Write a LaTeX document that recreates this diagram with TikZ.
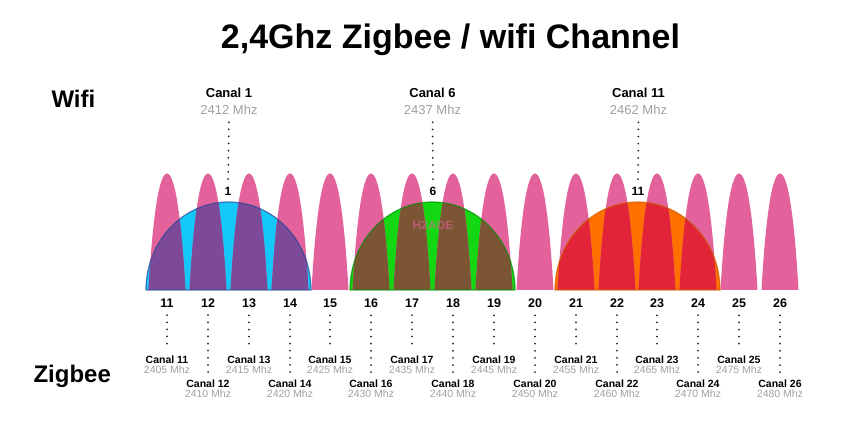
\documentclass[tikz,border=0pt]{standalone}
\usepackage{fontspec}
\setmainfont{Liberation Sans}
\usepackage{tikz}

\definecolor{lobepink}{RGB}{227,98,155}
\definecolor{wcyan}{RGB}{20,200,250}
\definecolor{wpurple}{RGB}{124,74,152}
\definecolor{wblueline}{RGB}{40,70,150}
\definecolor{wgreen}{RGB}{20,215,20}
\definecolor{wbrown}{RGB}{124,86,52}
\definecolor{wgreenline}{RGB}{0,140,0}
\definecolor{worange}{RGB}{255,112,0}
\definecolor{wred}{RGB}{226,36,56}
\definecolor{worangeline}{RGB}{205,90,0}
\definecolor{mhzgray}{RGB}{160,160,160}

% one zigbee lobe / one wifi dome
\newcommand{\lobe}[1]{(#1-18.5,-290) .. controls (#1-15,-228) and (#1-9,-173.5) .. (#1,-173.5)
  .. controls (#1+9,-173.5) and (#1+15,-228) .. (#1+18.5,-290) -- cycle}
\newcommand{\lobes}{\lobe{167}\lobe{208}\lobe{249}\lobe{290}\lobe{330}\lobe{371}\lobe{412}\lobe{453}
  \lobe{494}\lobe{535}\lobe{576}\lobe{617}\lobe{657}\lobe{698}\lobe{739}\lobe{780}}
\newcommand{\dome}[1]{(#1-82.5,-290) arc[start angle=180,end angle=0,x radius=82.5pt,y radius=88pt] -- cycle}

\begin{document}
\begin{tikzpicture}[x=1pt,y=1pt,
  title/.style={font=\fontsize{34}{38}\selectfont\bfseries},
  side/.style={font=\fontsize{24}{28}\selectfont\bfseries,anchor=base west},
  wname/.style={font=\fontsize{13}{15}\selectfont\bfseries,anchor=base,inner sep=1pt},
  wfreq/.style={font=\fontsize{13}{15}\selectfont,text=mhzgray,anchor=base,inner sep=1pt},
  wnum/.style={font=\fontsize{12}{14}\selectfont\bfseries,anchor=base,inner sep=1pt},
  chnum/.style={font=\fontsize{12.5}{14}\selectfont\bfseries,anchor=base,inner sep=1pt},
  zname/.style={font=\fontsize{10.5}{12}\selectfont\bfseries,anchor=base,inner sep=1pt},
  zfreq/.style={font=\fontsize{10.5}{12}\selectfont,text=mhzgray,anchor=base,inner sep=1pt},
  wmark/.style={font=\fontsize{12}{14}\selectfont\bfseries,text=lobepink,opacity=0.6},
  dots/.style={draw=black!85,line width=2pt,line cap=round,dash pattern=on 0pt off 7.1pt,shorten <=6pt,shorten >=6pt}]

\useasboundingbox (0,0) rectangle (844,-435);

% wifi domes and zigbee lobes
\fill[wcyan] \dome{228.5};
\fill[wgreen] \dome{432.5};
\fill[worange] \dome{637.5};
\fill[lobepink] \lobes;
\begin{scope}
\clip \dome{228.5};
\fill[wpurple] \lobes;
\end{scope}
\begin{scope}
\clip \dome{432.5};
\fill[wbrown] \lobes;
\end{scope}
\begin{scope}
\clip \dome{637.5};
\fill[wred] \lobes;
\end{scope}
\draw[wblueline,line width=1.2pt,opacity=0.7] \dome{228.5};
\draw[wgreenline,line width=1.2pt,opacity=0.7] \dome{432.5};
\draw[worangeline,line width=1.2pt,opacity=0.7] \dome{637.5};
\node[wmark](mark) at (433,-225){H2ADE};

\node[title,anchor=base](title) at (450.5,-49){2,4Ghz Zigbee / wifi Channel};
\node[side](wifi) at (48,-108){Wifi};
\node[side](zigbee) at (30,-383){Zigbee};

\node[wname](w1) at (229,-98){Canal 1};
\node[wfreq](wf1) at (229,-115){2412 Mhz};
\node[wnum](wn1) at (228,-196){1};
\node[wname](w6) at (432.5,-98){Canal 6};
\node[wfreq](wf6) at (432.5,-115){2437 Mhz};
\node[wnum](wn6) at (433,-196){6};
\node[wname](w11) at (638.5,-98){Canal 11};
\node[wfreq](wf11) at (638.5,-115){2462 Mhz};
\node[wnum](wn11) at (638,-196){11};

\node[chnum](c11) at (167,-308){11};
\node[chnum](c12) at (208,-308){12};
\node[chnum](c13) at (249,-308){13};
\node[chnum](c14) at (290,-308){14};
\node[chnum](c15) at (330,-308){15};
\node[chnum](c16) at (371,-308){16};
\node[chnum](c17) at (412,-308){17};
\node[chnum](c18) at (453,-308){18};
\node[chnum](c19) at (494,-308){19};
\node[chnum](c20) at (535,-308){20};
\node[chnum](c21) at (576,-308){21};
\node[chnum](c22) at (617,-308){22};
\node[chnum](c23) at (657,-308){23};
\node[chnum](c24) at (698,-308){24};
\node[chnum](c25) at (739,-308){25};
\node[chnum](c26) at (780,-308){26};

\node[zname](z11) at (167,-364){Canal 11};
\node[zfreq](f11) at (167,-374){2405 Mhz};
\node[zname](z12) at (208,-387.5){Canal 12};
\node[zfreq](f12) at (208,-397.5){2410 Mhz};
\node[zname](z13) at (249,-364){Canal 13};
\node[zfreq](f13) at (249,-374){2415 Mhz};
\node[zname](z14) at (290,-387.5){Canal 14};
\node[zfreq](f14) at (290,-397.5){2420 Mhz};
\node[zname](z15) at (330,-364){Canal 15};
\node[zfreq](f15) at (330,-374){2425 Mhz};
\node[zname](z16) at (371,-387.5){Canal 16};
\node[zfreq](f16) at (371,-397.5){2430 Mhz};
\node[zname](z17) at (412,-364){Canal 17};
\node[zfreq](f17) at (412,-374){2435 Mhz};
\node[zname](z18) at (453,-387.5){Canal 18};
\node[zfreq](f18) at (453,-397.5){2440 Mhz};
\node[zname](z19) at (494,-364){Canal 19};
\node[zfreq](f19) at (494,-374){2445 Mhz};
\node[zname](z20) at (535,-387.5){Canal 20};
\node[zfreq](f20) at (535,-397.5){2450 Mhz};
\node[zname](z21) at (576,-364){Canal 21};
\node[zfreq](f21) at (576,-374){2455 Mhz};
\node[zname](z22) at (617,-387.5){Canal 22};
\node[zfreq](f22) at (617,-397.5){2460 Mhz};
\node[zname](z23) at (657,-364){Canal 23};
\node[zfreq](f23) at (657,-374){2465 Mhz};
\node[zname](z24) at (698,-387.5){Canal 24};
\node[zfreq](f24) at (698,-397.5){2470 Mhz};
\node[zname](z25) at (739,-364){Canal 25};
\node[zfreq](f25) at (739,-374){2475 Mhz};
\node[zname](z26) at (780,-387.5){Canal 26};
\node[zfreq](f26) at (780,-397.5){2480 Mhz};

\path[dots](wf1)edge(wn1)
	(wf6)edge(wn6)
	(wf11)edge(wn11)
	(c11)edge(z11)
	(c12)edge(z12)
	(c13)edge(z13)
	(c14)edge(z14)
	(c15)edge(z15)
	(c16)edge(z16)
	(c17)edge(z17)
	(c18)edge(z18)
	(c19)edge(z19)
	(c20)edge(z20)
	(c21)edge(z21)
	(c22)edge(z22)
	(c23)edge(z23)
	(c24)edge(z24)
	(c25)edge(z25)
	(c26)edge(z26);

\end{tikzpicture}
\end{document}
